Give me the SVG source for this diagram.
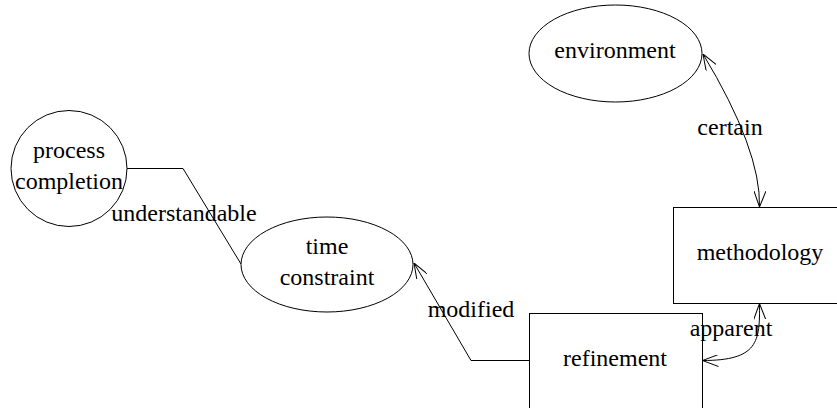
<svg xmlns="http://www.w3.org/2000/svg" width="837" height="408" viewBox="0 0 837 408">
<style>
.shape{fill:#fff;stroke:#000;stroke-width:1}
.edge{fill:none;stroke:#000;stroke-width:1}
</style>
<defs>
<marker id="arr" markerUnits="userSpaceOnUse" viewBox="0 0 16 12" refX="16" refY="6" markerWidth="16" markerHeight="12" orient="auto-start-reverse">
<path d="M0,0 L16,6 L0,12" fill="none" stroke="#000" stroke-width="1"/>
</marker>
</defs>
<rect width="837" height="408" fill="#fff"/>
<g id="connectors">
<path class="edge" d="M127,168.5 L183,168.5 L241,264"/>
<path class="edge" d="M529,360.5 L471,360.5 L414,263" marker-end="url(#arr)"/>
<path class="edge" d="M703,54 Q761,150 759.5,207" marker-start="url(#arr)" marker-end="url(#arr)"/>
<path class="edge" d="M759.5,303.5 C760,342 758,360.5 702.5,360.5" marker-start="url(#arr)" marker-end="url(#arr)"/>
</g>
<g font-family="Liberation Serif, Times New Roman, serif" font-size="24" fill="#000" text-anchor="middle">
<g id="process-completion">
<circle class="shape" cx="69" cy="168.5" r="58"/>
<text x="69" y="158">process</text>
<text x="69" y="189">completion</text>
</g>
<g id="time-constraint">
<ellipse class="shape" cx="327" cy="264.5" rx="86" ry="47.5"/>
<text x="327" y="254">time</text>
<text x="327" y="285">constraint</text>
</g>
<g id="environment">
<ellipse class="shape" cx="615.5" cy="53.5" rx="86.5" ry="48.5"/>
<text x="615" y="58">environment</text>
</g>
<g id="methodology">
<rect class="shape" x="673.5" y="207.5" width="174" height="96"/>
<text x="760" y="260">methodology</text>
</g>
<g id="refinement">
<rect class="shape" x="529.5" y="313.5" width="173" height="120"/>
<text x="615" y="366">refinement</text>
</g>
<g id="edge-labels">
<text x="184" y="221">understandable</text>
<text x="471" y="317">modified</text>
<text x="730" y="135">certain</text>
<text x="731" y="336">apparent</text>
</g>
</g>
</svg>
